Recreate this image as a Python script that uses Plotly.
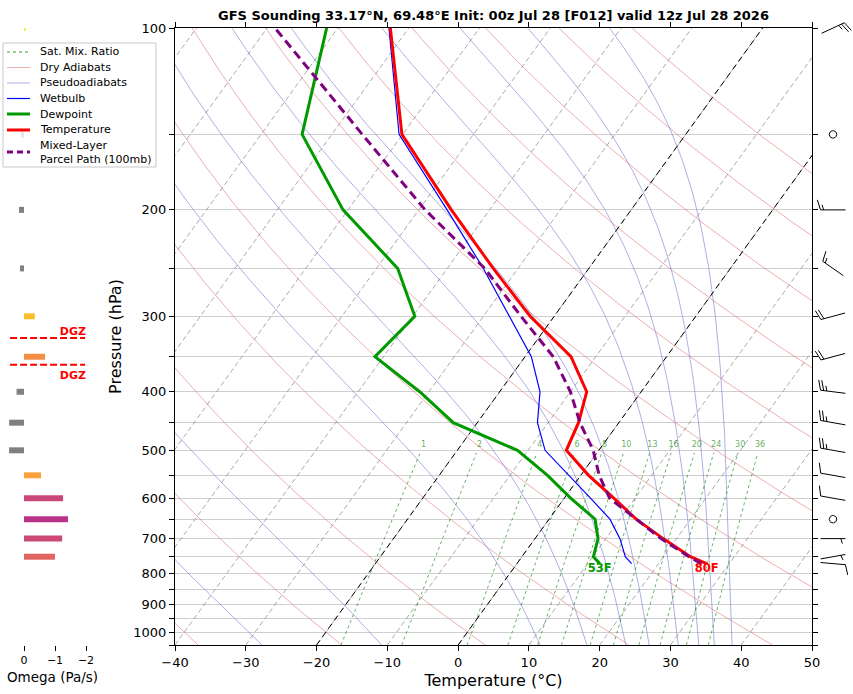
import numpy as np
import plotly.graph_objects as go
from plotly.colors import sample_colorscale

# ---------------- data ----------------
pressure = [770, 750, 700, 650, 600, 550, 500, 450, 400, 350, 300, 250, 200, 150, 100]
temperature = [26.8, 23.8, 18.1, 12.3, 7.0, 1.1, -4.6, -5.7, -7.7, -13.5, -23.4, -33.5, -45.4, -60.1, -72.6]
dewpoint = [11.7, 10.1, 8.9, 6.5, 0.9, -4.7, -11.5, -23.4, -31.3, -41.2, -39.7, -47.0, -60.7, -74.2, -81.6]
wetbulb = [16.2, 14.6, 12.0, 8.6, 3.7, -1.7, -7.6, -11.5, -14.3, -19.1, -26.3, -34.9, -46.0, -60.5, -72.8]
parcel_temperature = [26.1, 23.6, 17.8, 12.3, 6.4, 2.6, -0.8, -5.5, -10.0, -16.0, -24.7, -34.7, -49.1, -65.7, -88.9]

wind_pressure = [100, 150, 200, 250, 300, 350, 400, 450, 500, 550, 600, 650, 700, 750, 770]
wind_direction = [65, 0, 270, 305, 255, 255, 277, 280, 280, 280, 280, 0, 90, 80, 95]
wind_speed_kt = [25, 0, 15, 15, 20, 20, 25, 25, 25, 10, 10, 0, 5, 5, 10]

omega_pressure = [100, 150, 200, 250, 300, 350, 400, 450, 500, 550, 600, 650, 700, 750]
omega_pa_s = [-0.05, 0.10, 0.16, 0.13, -0.35, -0.68, 0.24, 0.48, 0.48, -0.55, -1.26, -1.42, -1.23, -1.00]

dgz_top_hpa = 326
dgz_bottom_hpa = 361

mixing_ratios_gkg = [1, 2, 4, 6, 8, 10, 13, 16, 20, 24, 30, 36]
isotherms_c = list(range(-100, 51, 10))
highlight_isotherms_c = [-20, 0]
dry_adiabat_theta_c = list(range(-40, 181, 20))
moist_adiabat_start_c = [-27.7, -10.8, 11.6, 18.2, 23.7, 27.0, 31.1, 34.0, 36.2, 38.7]

temp_ticks = list(range(-40, 51, 10))
pressure_ticks = list(range(100, 1051, 50))
pressure_ticktext = [str(p) if p % 100 == 0 and p <= 1000 else "" for p in pressure_ticks]
omega_ticks = [0, -1, -2]
title_text = "GFS Sounding 33.17°N, 69.48°E Init: 00z Jul 28 [F012] valid 12z Jul 28 2026"

MIX_COLOR = "rgba(0,128,0,0.6)"
DRY_COLOR = "rgba(220,110,110,0.55)"
MOIST_COLOR = "rgba(110,110,210,0.55)"
DEW_COLOR = "#009a00"

legend_entries = [
    ("Sat. Mix. Ratio", "rgba(0,150,0,0.85)", 1, "dot"),
    ("Dry Adiabats", DRY_COLOR, 1, None),
    ("Pseudoadiabats", MOIST_COLOR, 1, None),
    ("Wetbulb", "blue", 1.2, None),
    ("Dewpoint", DEW_COLOR, 3, None),
    ("Temperature", "red", 3, None),
    ("Mixed-Layer<br>Parcel Path (100mb)", "purple", 3, "6px,4px"),
]

# ---------------- geometry ----------------
W, H = 853, 694
PL, PR, PT, PB = 175, 812, 28, 645
BARB_X = 833
P_TOP, P_BOT = 100.0, 1050.0
PX_PER_LN = (PB - PT) / np.log(P_BOT / P_TOP)
PX_PER_C = (PR - PL) / 90.0
SKEW = 0.723 * PX_PER_LN / PX_PER_C
FONT = "DejaVu Sans"


def skew_x(t, p):
    return np.asarray(t, float) + SKEW * np.log(P_BOT / np.asarray(p, float))


def fx(px):
    return px / W


def fy(py):
    return 1 - py / H


def joined(segments):
    xs, ys = [], []
    for x, y in segments:
        xs += [float(v) for v in x] + [None]
        ys += [float(v) for v in y] + [None]
    return xs, ys


fig = go.Figure()


def add_line(x, y, color, width, dash=None, xaxis="x", yaxis="y"):
    fig.add_trace(go.Scatter(x=x, y=y, mode="lines", xaxis=xaxis, yaxis=yaxis,
                             line=dict(color=color, width=width, dash=dash),
                             hoverinfo="skip", showlegend=False, connectgaps=False))


# isotherms
segs = []
for t in isotherms_c:
    pp2 = np.array([P_BOT, P_TOP])
    segs.append((skew_x([t, t], pp2), pp2))
x, y = joined(segs)
add_line(x, y, "rgba(140,140,140,0.75)", 1, "5px,3px")

# dry adiabats
pp = np.geomspace(P_BOT, P_TOP, 120)
segs = []
for th in dry_adiabat_theta_c:
    t = (th + 273.15) * (pp / 1000.0) ** 0.2857 - 273.15
    segs.append((skew_x(t, pp), pp))
x, y = joined(segs)
add_line(x, y, DRY_COLOR, 1)

# moist (pseudo) adiabats
Rd, Cpd, Lv, EPS = 287.04, 1005.7, 2.501e6, 0.622


def dTdp(p, T):
    tc = T - 273.15
    es = 6.112 * np.exp(17.67 * tc / (tc + 243.5))
    rs = EPS * es / (p - es)
    return (Rd * T + Lv * rs) / (Cpd + Lv * Lv * rs * EPS / (Rd * T * T)) / p


segs = []
for t0 in moist_adiabat_start_c:
    T = t0 + 273.15
    out = [T]
    for i in range(len(pp) - 1):
        p1, p2 = pp[i], pp[i + 1]
        h = p2 - p1
        k1 = dTdp(p1, T)
        k2 = dTdp(p1 + h / 2, T + h / 2 * k1)
        k3 = dTdp(p1 + h / 2, T + h / 2 * k2)
        k4 = dTdp(p2, T + h * k3)
        T = T + h / 6 * (k1 + 2 * k2 + 2 * k3 + k4)
        out.append(T)
    segs.append((skew_x(np.array(out) - 273.15, pp), pp))
x, y = joined(segs)
add_line(x, y, MOIST_COLOR, 1)


# saturation mixing-ratio lines
def mix_dewpoint(w_gkg, p):
    w = w_gkg / 1000.0
    e = w * p / (EPS + w)
    a = np.log(e / 6.112)
    return 243.5 * a / (17.67 - a)


pm = np.geomspace(P_BOT, 505, 40)
segs = []
for w in mixing_ratios_gkg:
    segs.append((skew_x(mix_dewpoint(w, pm), pm), pm))
x, y = joined(segs)
add_line(x, y, MIX_COLOR, 1, "dot")
label_p = 490.0
fig.add_trace(go.Scatter(
    x=[float(skew_x(mix_dewpoint(w, label_p), label_p)) for w in mixing_ratios_gkg],
    y=[label_p] * len(mixing_ratios_gkg), mode="text",
    text=[str(w) for w in mixing_ratios_gkg],
    textfont=dict(family=FONT, size=8, color="rgba(0,128,0,0.65)"),
    hoverinfo="skip", showlegend=False))

# highlighted isotherms
segs = []
for t in highlight_isotherms_c:
    pq = np.array([P_BOT, P_TOP])
    segs.append((skew_x([t, t], pq), pq))
x, y = joined(segs)
add_line(x, y, "black", 1, "6px,4px")

# profiles
add_line(skew_x(wetbulb, pressure), pressure, "blue", 1.2)
add_line(skew_x(dewpoint, pressure), pressure, DEW_COLOR, 3)
add_line(skew_x(temperature, pressure), pressure, "red", 3)
add_line(skew_x(parcel_temperature, pressure), pressure, "purple", 3, "9px,5px")

# surface labels
t_sfc_f = round(temperature[0] * 9 / 5 + 32)
td_sfc_f = round(dewpoint[0] * 9 / 5 + 32)
fig.add_trace(go.Scatter(
    x=[float(skew_x(dewpoint[0], pressure[0])), float(skew_x(temperature[0], pressure[0]))],
    y=[pressure[0], pressure[0]], mode="text",
    text=[f"{td_sfc_f}F", f"{t_sfc_f}F"], textposition="bottom center",
    textfont=dict(family=FONT, size=11.5, color=[DEW_COLOR, "red"], weight="bold"),
    hoverinfo="skip", showlegend=False))

# ---------------- omega panel ----------------
half = 3.0 / PX_PER_LN
for p, w in zip(omega_pressure, omega_pa_s):
    if w >= 0:
        col = "#808080"
    else:
        col = sample_colorscale("Plasma", [max(0.0, 1 - abs(w) / 2.5)])[0]
    lo, hi = p * np.exp(-half), p * np.exp(half)
    fig.add_trace(go.Scatter(x=[0, w, w, 0, 0], y=[lo, lo, hi, hi, lo], mode="lines",
                             fill="toself", fillcolor=col, line=dict(width=0, color=col),
                             xaxis="x2", yaxis="y2", hoverinfo="skip", showlegend=False))

for pd in [dgz_top_hpa, dgz_bottom_hpa]:
    add_line([0.45, -1.97], [pd, pd], "red", 2, "7px,3px", xaxis="x2", yaxis="y2")
shift = np.exp(6.0 / PX_PER_LN)
fig.add_trace(go.Scatter(x=[-2.0, -2.0], y=[dgz_top_hpa, dgz_bottom_hpa * shift], mode="text",
                         text=["DGZ", "DGZ"], textposition=["top left", "bottom left"],
                         textfont=dict(family=FONT, size=11, color="red", weight="bold"),
                         xaxis="x2", yaxis="y2", hoverinfo="skip", showlegend=False))

# ---------------- wind barbs (full-figure pixel axis, log-pressure vertical) ----------------
L = 25.0
BH, BW, BS = 0.4 * L, 0.25 * L, 0.125 * L
segs = []
for p0, d, s in zip(wind_pressure, wind_direction, wind_speed_kt):
    s = int(5 * round(s / 5.0))
    if s == 0:
        th = np.linspace(0, 2 * np.pi, 40)
        e = 0.15 * L * np.cos(th)
        n = 0.15 * L * np.sin(th)
        segs.append((BARB_X + e, p0 * np.exp(-n / PX_PER_LN)))
        continue
    rad = np.radians(d)
    local = [[(0.0, -L / 2), (0.0, L / 2)]]
    end = L / 2
    off = end
    nflag = s // 50
    nbarb = (s % 50) // 10
    hb = (s % 10) >= 5
    for _ in range(nflag):
        local.append([(0.0, off), (BH, off - BW / 2), (0.0, off - BW)])
        off -= BW + BS / 2
    for _ in range(nbarb):
        local.append([(0.0, off), (BH, off + BW / 2)])
        off -= BS
    if hb:
        if off == end:
            off -= 1.5 * BS
        local.append([(0.0, off), (BH / 2, off + BW / 4)])
    for poly in local:
        lx = np.array([q[0] for q in poly])
        ly = np.array([q[1] for q in poly])
        e = ly * np.sin(rad) + lx * np.cos(rad)
        n = ly * np.cos(rad) - lx * np.sin(rad)
        segs.append((BARB_X + e, p0 * np.exp(-n / PX_PER_LN)))
x, y = joined(segs)
add_line(x, y, "black", 1, xaxis="x3", yaxis="y3")

# ---------------- layout ----------------
ydom = [fy(PB), fy(PT)]
yrange = [np.log10(P_BOT), np.log10(P_TOP)]
# full-paper log-pressure axis for the barbs (same mapping as the main axis)
p_paper_top = P_TOP * np.exp((0 - PT) / PX_PER_LN)
p_paper_bot = P_TOP * np.exp((H - PT) / PX_PER_LN)
tickfont = dict(family=FONT, size=13, color="black")

shapes = []
annotations = []
# manual legend
shapes.append(dict(type="rect", xref="paper", yref="paper", x0=fx(3), x1=fx(156), y0=fy(167), y1=fy(43),
                   line=dict(color="rgba(200,200,200,1)", width=1), fillcolor="rgba(255,255,255,0.8)",
                   layer="above"))
ys = [52, 67.5, 83, 98.5, 114, 130, 152]
for (lab, col, wdt, dsh), yy in zip(legend_entries, ys):
    shapes.append(dict(type="line", xref="paper", yref="paper", x0=fx(7), x1=fx(30), y0=fy(yy), y1=fy(yy),
                       line=dict(color=col, width=wdt, dash=dsh), layer="above"))
    annotations.append(dict(xref="paper", yref="paper", x=fx(38), y=fy(yy), text=lab, showarrow=False,
                            xanchor="left", yanchor="middle", align="left",
                            font=dict(family=FONT, size=11, color="black")))

fig.update_layout(
    width=W, height=H, margin=dict(l=0, r=0, t=0, b=0),
    paper_bgcolor="white", plot_bgcolor="rgba(0,0,0,0)", showlegend=False,
    title=dict(text=title_text, x=(PL + PR) / 2 / W, xanchor="center", y=fy(15), yanchor="middle",
               font=dict(family=FONT, size=13, color="black", weight="bold")),
    xaxis=dict(domain=[fx(PL), fx(PR)], range=[-40, 50], anchor="y", tickvals=temp_ticks,
               ticks="outside", ticklen=5, tickwidth=1, tickcolor="black", showline=True,
               linecolor="black", linewidth=1, mirror="ticks", showgrid=False, zeroline=False,
               tickfont=tickfont, automargin=False,
               title=dict(text="Temperature (°C)", font=dict(family=FONT, size=16, color="black"), standoff=6)),
    yaxis=dict(domain=ydom, type="log", range=yrange, anchor="x", tickvals=pressure_ticks,
               ticktext=pressure_ticktext, ticks="outside", ticklen=5, tickwidth=1, tickcolor="black",
               showline=True, linecolor="black", linewidth=1, mirror="ticks", showgrid=True,
               gridcolor="#cfcfcf", gridwidth=1, zeroline=False, tickfont=tickfont, automargin=False,
               title=dict(text="Pressure (hPa)", font=dict(family=FONT, size=16, color="black"), standoff=7)),
    xaxis2=dict(domain=[fx(5), fx(100)], range=[(24 - 5) / 31.0, -(100 - 24) / 31.0], anchor="y2",
                tickvals=omega_ticks, ticks="outside", ticklen=5, tickwidth=1, tickcolor="black",
                showline=False, showgrid=False, zeroline=False, automargin=False,
                tickfont=dict(family=FONT, size=11, color="black"),
                title=dict(text="Omega (Pa/s)", font=dict(family=FONT, size=13.5, color="black"), standoff=6)),
    yaxis2=dict(domain=ydom, type="log", range=yrange, anchor="x2", visible=False, showgrid=False),
    xaxis3=dict(domain=[0.0, 1.0], range=[0, W], anchor="y3", showticklabels=False, ticks="",
                showline=False, showgrid=False, zeroline=False, fixedrange=True),
    yaxis3=dict(domain=[0.0, 1.0], type="log", range=[np.log10(p_paper_bot), np.log10(p_paper_top)],
                anchor="x3", showticklabels=False, ticks="", showline=False, showgrid=False,
                zeroline=False, fixedrange=True),
    shapes=shapes, annotations=annotations,
)

fig.write_html("out.html", config={"displayModeBar": False},
               post_script="document.body.style.margin='0px';document.body.style.overflow='hidden';")
